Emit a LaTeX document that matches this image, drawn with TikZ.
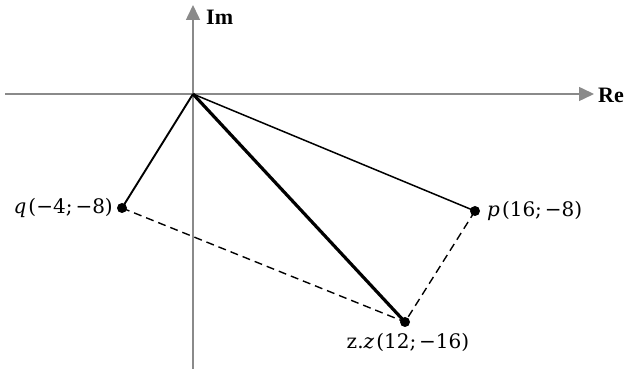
\documentclass[tikz,border=0pt]{standalone}
\usepackage{fontspec}
\setmainfont{Liberation Serif}
\newfontfamily\labfont{DejaVu Serif}
\usetikzlibrary{arrows.meta}
\definecolor{axisgray}{RGB}{138,138,138}
\begin{document}
\begin{tikzpicture}[x=1pt,y=1pt,
  axisline/.style={draw=axisgray,line width=1.5pt,-{Triangle[length=15pt,width=14pt]}},
  pt/.style={circle,fill=black,inner sep=0pt,minimum size=10pt},
  lab/.style={font=\labfont\fontsize{20}{23}\selectfont,inner sep=1pt},
  axlab/.style={font=\fontsize{22}{25}\selectfont\bfseries,inner sep=1pt},
  vec/.style={draw=black}]
\useasboundingbox (0,0) rectangle (627,369);
\coordinate (O) at (193,275);
\coordinate (xl) at (5,275);
\coordinate (xr) at (594,275);
\coordinate (yb) at (193,0);
\coordinate (yt) at (193,364);
\draw[axisline] (xl) -- (xr);
\draw[axisline] (yb) -- (yt);
\node[axlab,anchor=west] (re) at (597,274) {Re};
\node[axlab,anchor=west] (im) at (205,352) {Im};
\node[pt] (q) at (122,161) {};
\node[pt] (p) at (475,158) {};
\node[pt] (z) at (405,47) {};
\node[lab,anchor=east] (ql) at (114,161) {\textit{q}\hspace{2pt}(−4;\hspace{3pt}−8)};
\node[lab,anchor=west] (pl) at (486,158) {\textit{p}\hspace{2pt}(16;\hspace{3pt}−8)};
\node[lab,anchor=north] (zl) at (408,37) {z.\textit{z}\hspace{2pt}(12;\hspace{3pt}−16)};
\draw[vec,line width=1.9pt] (O) -- (q.center);
\draw[vec,line width=1.5pt] (O) -- (p.center);
\draw[vec,line width=3.2pt] (O) -- (z.center);
\draw[line width=1.4pt,dash pattern=on 8pt off 5pt] (q.center) -- (z.center);
\draw[line width=1.4pt,dash pattern=on 8pt off 5pt] (p.center) -- (z.center);
\end{tikzpicture}
\end{document}
